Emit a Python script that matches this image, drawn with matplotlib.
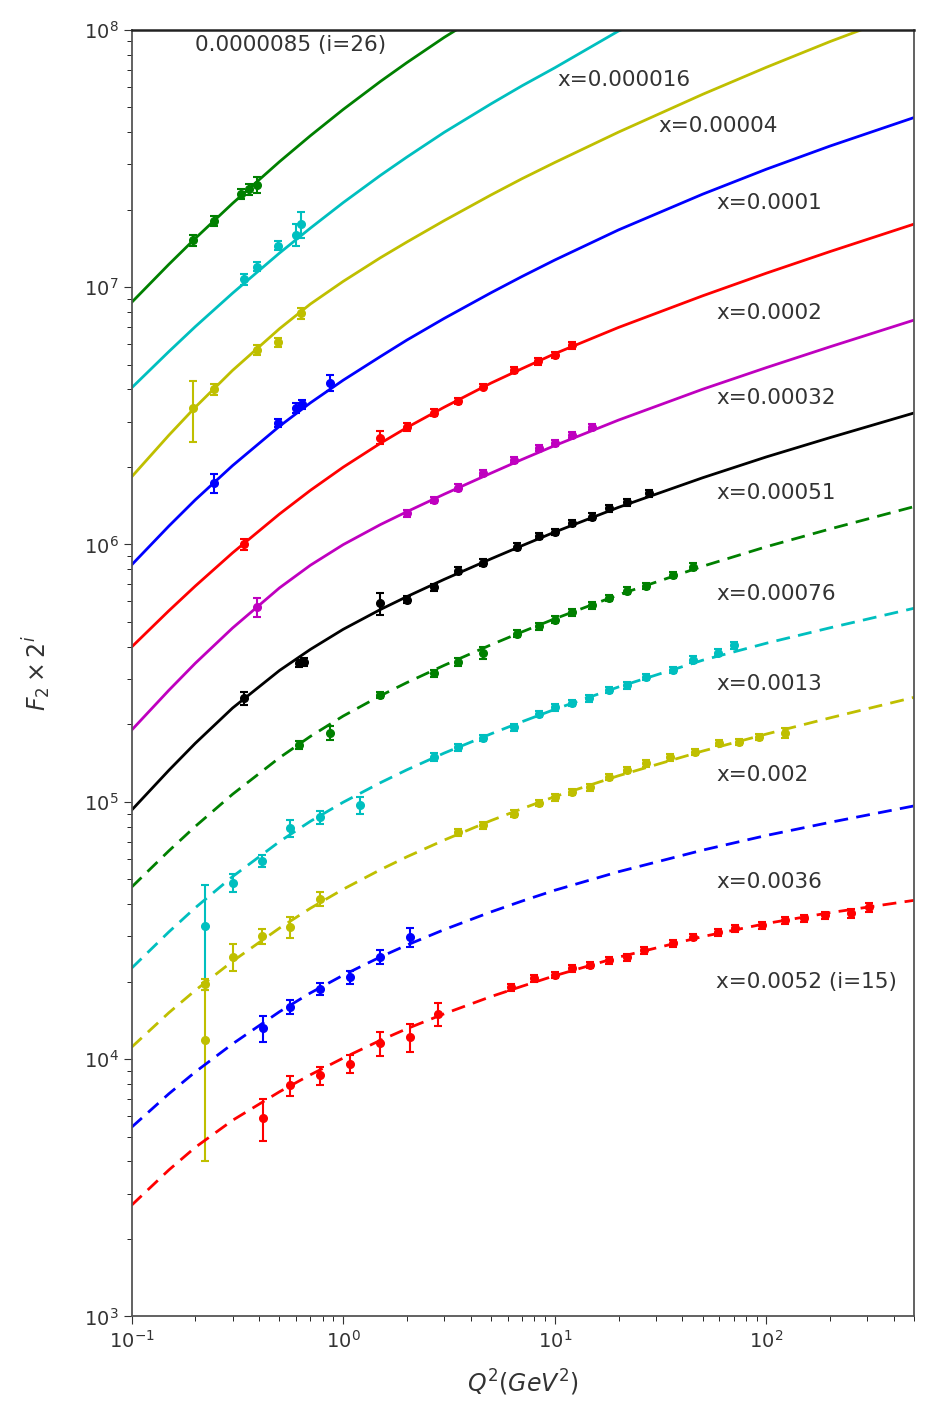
import numpy as np
import matplotlib
matplotlib.use("Agg")
import matplotlib.pyplot as plt

nan = np.nan

Q_FIT = [0.1, 0.15, 0.2, 0.3, 0.5, 0.7, 1, 1.5, 2, 3, 5, 7, 10, 20, 50, 100, 200, 500]
LOG_26 = [6.940, 7.088, 7.189, 7.325, 7.487, 7.588, 7.690, 7.799, 7.872, 7.970, 8.083,
          nan, nan, nan, nan, nan, nan, nan]
LOG_25 = [6.608, 6.749, 6.846, 6.976, 7.132, 7.229, 7.328, 7.434, 7.505, 7.601, 7.712,
          7.782, 7.852, 7.995, 8.130, nan, nan, nan]
LOG_24 = [6.262, 6.424, 6.533, 6.676, 6.838, 6.934, 7.022, 7.114, 7.175, 7.258, 7.358,
          7.421, 7.484, 7.602, 7.749, 7.854, 7.954, 8.077]
LOG_23 = [5.920, 6.071, 6.173, 6.306, 6.459, 6.550, 6.638, 6.730, 6.794, 6.878, 6.978,
          7.041, 7.105, 7.222, 7.361, 7.458, 7.548, 7.659]
LOG_22 = [5.601, 5.742, 5.838, 5.967, 6.118, 6.210, 6.300, 6.393, 6.454, 6.533, 6.627,
          6.683, 6.741, 6.843, 6.966, 7.054, 7.138, 7.245]
LOG_21 = [5.278, 5.433, 5.538, 5.675, 5.831, 5.919, 5.999, 6.077, 6.127, 6.195, 6.277,
          6.330, 6.384, 6.483, 6.603, 6.687, 6.768, 6.872]
LOG_20 = [4.967, 5.122, 5.227, 5.364, 5.510, 5.592, 5.670, 5.747, 5.797, 5.864, 5.944,
          5.995, 6.048, 6.144, 6.259, 6.340, 6.415, 6.511]
LOG_19 = [4.668, 4.809, 4.904, 5.029, 5.171, 5.254, 5.333, 5.412, 5.463, 5.530, 5.610,
          5.660, 5.711, 5.804, 5.915, 5.991, 6.060, 6.147]
LOG_18 = [4.353, 4.494, 4.588, 4.709, 4.845, 4.924, 4.998, 5.074, 5.124, 5.189, 5.264,
          5.311, 5.359, 5.446, 5.550, 5.616, 5.676, 5.752]
LOG_17 = [4.046, 4.180, 4.267, 4.380, 4.509, 4.586, 4.660, 4.736, 4.786, 4.851, 4.927,
          4.973, 5.020, 5.101, 5.197, 5.263, 5.326, 5.406]
LOG_16 = [3.735, 3.865, 3.950, 4.059, 4.184, 4.257, 4.326, 4.397, 4.443, 4.503, 4.572,
          4.614, 4.656, 4.728, 4.812, 4.869, 4.920, 4.984]
LOG_15 = [3.432, 3.569, 3.657, 3.762, 3.873, 3.939, 4.004, 4.073, 4.118, 4.176, 4.243,
          4.283, 4.324, 4.396, 4.476, 4.527, 4.569, 4.617]

# measured points (Q^2, F2 x 2^i, error)
Q_26 = [0.195, 0.245, 0.33, 0.36, 0.39]
F_26 = [1.52e7, 1.8e7, 2.3e7, 2.4e7, 2.5e7]
E_26 = [8e5, 8e5, 1.0e6, 1.2e6, 1.8e6]

Q_25 = [0.34, 0.39, 0.49, 0.60, 0.63]
F_25 = [1.07e7, 1.2e7, 1.45e7, 1.6e7, 1.75e7]
E_25 = [5e5, 5e5, 6e5, 1.5e6, 2.0e6]

Q_24 = [0.195, 0.245, 0.39, 0.49, 0.63]
F_24 = [3.4e6, 4.0e6, 5.7e6, 6.1e6, 7.9e6]
E_24 = [9e5, 2e5, 2.5e5, 2.5e5, 4e5]

Q_23 = [0.245, 0.49, 0.60, 0.64, 0.87]
F_23 = [1.73e6, 2.97e6, 3.4e6, 3.5e6, 4.25e6]
E_23 = [1.5e5, 1e5, 1.5e5, 1.5e5, 3e5]

Q_22 = [0.34, 1.5, 2.0, 2.7, 3.5, 4.6, 6.4, 8.3, 10, 12]
F_22 = [1.0e6, 2.6e6, 2.85e6, 3.25e6, 3.6e6, 4.1e6, 4.75e6, 5.15e6, 5.45e6, 5.95e6]
E_22 = [5e4, 1.5e5, 1e5, 1e5, 1e5, 1e5, 1.2e5, 1.5e5, 1.5e5, 1.8e5]

Q_21 = [0.39, 2.0, 2.7, 3.5, 4.6, 6.4, 8.4, 10, 12, 15]
F_21 = [5.7e5, 1.32e6, 1.49e6, 1.66e6, 1.9e6, 2.13e6, 2.37e6, 2.48e6, 2.66e6, 2.86e6]
E_21 = [5e4, 4e4, 4e4, 5e4, 5e4, 6e4, 6e4, 7e4, 8e4, 8e4]

Q_20 = [0.34, 0.62, 0.65, 1.5, 2.0, 2.7, 3.5, 4.6, 6.6, 8.4, 10, 12, 15, 18, 22, 28]
F_20 = [2.53e5, 3.45e5, 3.5e5, 5.9e5, 6.1e5, 6.8e5, 7.9e5, 8.5e5, 9.8e5, 1.08e6,
        1.12e6, 1.21e6, 1.28e6, 1.38e6, 1.46e6, 1.58e6]
E_20 = [1.5e4, 1.2e4, 1.2e4, 6e4, 2e4, 2e4, 2.5e4, 2.5e4, 3e4, 3e4, 3e4, 3.5e4,
        4e4, 4e4, 4.5e4, 5e4]

Q_19 = [0.62, 0.87, 1.5, 2.7, 3.5, 4.6, 6.6, 8.4, 10, 12, 15, 18, 22, 27, 36, 45]
F_19 = [1.66e5, 1.85e5, 2.6e5, 3.15e5, 3.5e5, 3.8e5, 4.5e5, 4.8e5, 5.1e5, 5.45e5,
        5.8e5, 6.2e5, 6.6e5, 6.9e5, 7.6e5, 8.2e5]
E_19 = [6e3, 1.2e4, 8e3, 1e4, 1.2e4, 2e4, 1.3e4, 1.4e4, 1.5e4, 1.6e4, 1.7e4, 1.8e4,
        2e4, 2e4, 2.2e4, 2.5e4]

Q_18 = [0.222, 0.30, 0.415, 0.56, 0.78, 1.2, 2.7, 3.5, 4.6, 6.4, 8.4, 10, 12, 14.5,
        18, 22, 27, 36, 45, 59, 70]
F_18 = [3.3e4, 4.85e4, 5.9e4, 7.9e4, 8.7e4, 9.7e4, 1.49e5, 1.63e5, 1.77e5, 1.95e5,
        2.2e5, 2.33e5, 2.42e5, 2.53e5, 2.72e5, 2.84e5, 3.05e5, 3.25e5, 3.56e5, 3.8e5, 4.05e5]
E_18 = [1.45e4, 4e3, 3e3, 6e3, 5e3, 7e3, 5e3, 5e3, 5e3, 6e3, 6e3, 7e3, 7e3, 8e3,
        8e3, 9e3, 9e3, 1e4, 1.1e4, 1.2e4, 1.2e4]

Q_17 = [0.222, 0.222, 0.30, 0.415, 0.56, 0.78, 3.5, 4.6, 6.4, 8.4, 10, 12, 14.6, 18,
        22, 27, 35, 46, 60, 74, 92, 122]
F_17 = [1.19e4, 1.95e4, 2.5e4, 3.0e4, 3.25e4, 4.2e4, 7.6e4, 8.1e4, 9.0e4, 9.9e4,
        1.04e5, 1.09e5, 1.14e5, 1.25e5, 1.33e5, 1.41e5, 1.49e5, 1.56e5, 1.69e5,
        1.71e5, 1.78e5, 1.85e5]
E_17 = [7.9e3, 1e3, 3e3, 2e3, 3e3, 2.5e3, 2.5e3, 2.5e3, 3e3, 3e3, 3e3, 3e3, 3.5e3,
        3.5e3, 4e3, 4e3, 4.5e3, 4.5e3, 5e3, 5e3, 5e3, 8e3]

Q_16 = [0.42, 0.56, 0.78, 1.08, 1.5, 2.08]
F_16 = [1.32e4, 1.6e4, 1.88e4, 2.08e4, 2.5e4, 2.98e4]
E_16 = [1.5e3, 1e3, 1e3, 1.2e3, 1.5e3, 2.5e3]

Q_15 = [0.42, 0.56, 0.78, 1.08, 1.5, 2.08, 2.8, 6.2, 8.0, 10, 12, 14.6, 18, 22, 26.5,
        36, 45, 59, 71, 95, 122, 150, 190, 250, 305]
F_15 = [5.9e3, 7.9e3, 8.65e3, 9.6e3, 1.15e4, 1.22e4, 1.5e4, 1.9e4, 2.06e4, 2.12e4,
        2.25e4, 2.32e4, 2.42e4, 2.49e4, 2.65e4, 2.82e4, 2.98e4, 3.11e4, 3.23e4,
        3.31e4, 3.47e4, 3.53e4, 3.62e4, 3.69e4, 3.89e4]
E_15 = [1.1e3, 7e2, 7e2, 8e2, 1.2e3, 1.5e3, 1.5e3, 6e2, 6e2, 6e2, 7e2, 7e2, 7e2, 8e2,
        8e2, 9e2, 9e2, 1e3, 1e3, 1e3, 1.1e3, 1.1e3, 1.2e3, 1.5e3, 1.5e3]

LABELS = ["0.0000085 (i=26)", "x=0.000016", "x=0.00004", "x=0.0001", "x=0.0002",
          "x=0.00032", "x=0.00051", "x=0.00076", "x=0.0013", "x=0.002", "x=0.0036",
          "x=0.0052 (i=15)"]
LABEL_Q = [0.2, 10.3, 30.9, 58, 58, 58, 58, 58, 58, 58, 58, 58]
LABEL_F = [8.7e7, 6.4e7, 4.24e7, 2.12e7, 7.94e6, 3.71e6, 1.58e6, 6.41e5, 2.87e5,
           1.27e5, 4.87e4, 1.99e4]

FITS = [LOG_26, LOG_25, LOG_24, LOG_23, LOG_22, LOG_21, LOG_20,
        LOG_19, LOG_18, LOG_17, LOG_16, LOG_15]
POINTS = [(Q_26, F_26, E_26), (Q_25, F_25, E_25), (Q_24, F_24, E_24),
          (Q_23, F_23, E_23), (Q_22, F_22, E_22), (Q_21, F_21, E_21),
          (Q_20, F_20, E_20), (Q_19, F_19, E_19), (Q_18, F_18, E_18),
          (Q_17, F_17, E_17), (Q_16, F_16, E_16), (Q_15, F_15, E_15)]
COLORS = ["g", "c", "y", "b", "r", "m", "k", "g", "c", "y", "b", "r"]
STYLES = ["-"] * 7 + ["--"] * 5

fig = plt.figure(figsize=(9.33, 14.14), dpi=100)
ax = fig.add_axes([0.141, 0.069, 0.839, 0.91])

for logf, (q, f, e), col, ls in zip(FITS, POINTS, COLORS, STYLES):
    ax.plot(Q_FIT, np.power(10.0, logf), ls, color=col, lw=2.0,
            dashes=(5, 3) if ls == "--" else ())
    ax.errorbar(q, f, yerr=e, fmt="o", color=col, ms=5.5, capsize=3,
                elinewidth=1.5, capthick=1.5)

for txt, q, f in zip(LABELS, LABEL_Q, LABEL_F):
    ax.text(q, f, txt, fontsize=15.5, color="#333333", ha="left", va="center")

ax.set_xscale("log")
ax.set_yscale("log")
ax.set_xlim(0.1, 500)
ax.set_ylim(1e3, 1e8)
ax.tick_params(labelsize=14, colors="#333333", length=6)
ax.tick_params(which="minor", length=3.5)
ax.set_xlabel(r"$Q^2(GeV^2)$", fontsize=17, color="#333333", labelpad=12)
ax.set_ylabel(r"$F_2 \times 2^i$", fontsize=17, color="#333333", labelpad=22)
for s in ax.spines.values():
    s.set_color("#555555")
    s.set_linewidth(1.3)
ax.spines["top"].set_color("#222222")
ax.spines["top"].set_linewidth(1.8)

fig.savefig("out.png", dpi=100)
